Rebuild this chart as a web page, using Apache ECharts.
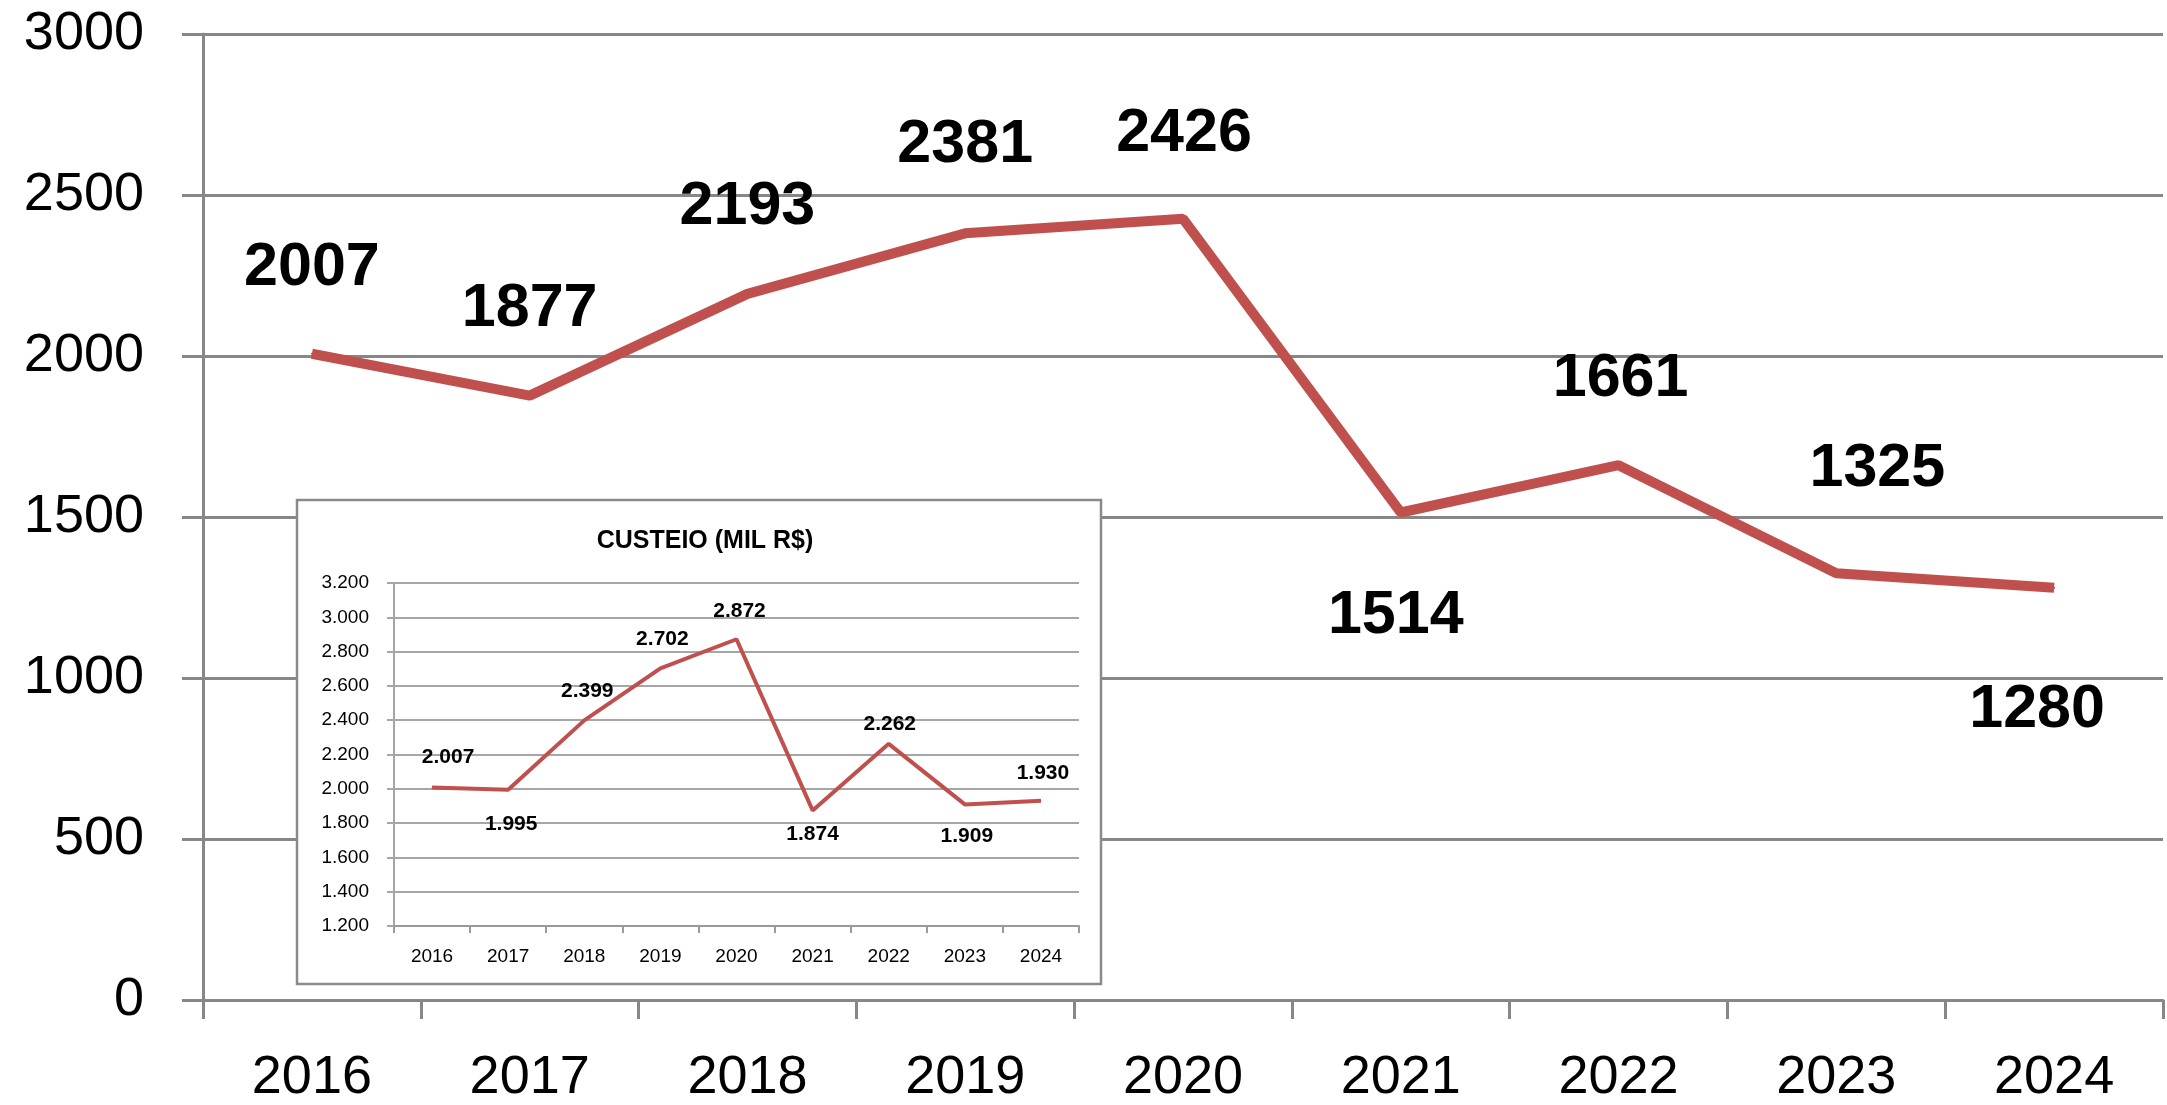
<!DOCTYPE html>
<html style="height: 100%">
<head>
    <meta charset="utf-8">
    <title>Custeio</title>
    <script src="https://cdn.jsdelivr.net/npm/echarts/dist/echarts.min.js"></script>
    <style>
        html, body { margin: 0; padding: 0; background: #fff; }
        #container { width: 2167px; height: 1105px; }
    </style>
</head>
<body>
<div id="container"></div>
<script>
    // categories (both charts use the same years)
    var years = ['2016', '2017', '2018', '2019', '2020', '2021', '2022', '2023', '2024'];
    // big chart values
    var mainValues = [2007, 1877, 2193, 2381, 2426, 1514, 1661, 1325, 1280];
    // small chart "CUSTEIO (MIL R$)"
    var insetTitle = 'CUSTEIO (MIL R$)';
    var insetValues = [2007, 1995, 2399, 2702, 2872, 1874, 2262, 1909, 1930];

    // label placement (pixel offsets from the point), not data
    var mainLabelOffsets = [[0, -86], [0, -86], [0, -87], [0, -88], [1, -85], [-5, 104], [2, -86], [41, -104], [-17, 122]];
    var insetLabelOffsets = [[16, -30], [3, 35], [3, -29], [2, -29], [3, -28], [0, 24], [1, -20], [2, 32], [2, -28]];

    var RED = '#C0504D';
    var FONT = 'Liberation Sans';

    // 2007 -> "2.007"
    function ptNumber(v) {
        return String(v).replace(/\B(?=(\d{3})+(?!\d))/g, '.');
    }

    function buildData(values, offsets) {
        var out = [];
        for (var i = 0; i < values.length; i++) {
            out.push({
                value: values[i],
                label: { offset: offsets[i] }
            });
        }
        return out;
    }

    var myChart = echarts.init(document.getElementById('container'), null, { renderer: 'canvas' });

    var option = {
        animation: false,
        backgroundColor: '#fff',
        title: {
            text: insetTitle,
            left: 700,
            top: 524,
            textAlign: 'center',
            z: 20,
            textStyle: { fontFamily: FONT, fontWeight: 'bold', fontSize: 25, color: '#000' }
        },
        graphic: [
            {
                type: 'rect',
                z: 5,
                shape: { x: 297, y: 500, width: 804, height: 484 },
                style: { fill: '#fff', stroke: '#8a8a8a', lineWidth: 2.5 }
            }
        ],
        grid: [
            { left: 203, right: 4, top: 34, bottom: 103 },
            { left: 394, right: 1088, top: 583, bottom: 179, z: 10 }
        ],
        xAxis: [
            {
                type: 'category',
                gridIndex: 0,
                data: years,
                boundaryGap: true,
                axisLine: { lineStyle: { color: '#878787', width: 3 } },
                axisTick: { show: true, length: 19, lineStyle: { color: '#878787', width: 3 } },
                axisLabel: { color: '#000', fontFamily: FONT, fontSize: 54, margin: 51 },
                splitLine: { show: false }
            },
            {
                type: 'category',
                gridIndex: 1,
                data: years,
                boundaryGap: true,
                z: 10,
                axisLine: { lineStyle: { color: '#9a9a9a', width: 2 } },
                axisTick: { show: true, length: 7, lineStyle: { color: '#9a9a9a', width: 2 } },
                axisLabel: { color: '#000', fontFamily: FONT, fontSize: 19, margin: 21 },
                splitLine: { show: false }
            }
        ],
        yAxis: [
            {
                type: 'value',
                gridIndex: 0,
                min: 0,
                max: 3000,
                interval: 500,
                axisLine: { show: true, lineStyle: { color: '#878787', width: 3 } },
                axisTick: { show: true, length: 21, lineStyle: { color: '#878787', width: 3 } },
                axisLabel: {
                    color: '#000', fontFamily: FONT, fontSize: 54, margin: 59,
                    formatter: function (v) { return String(v); }
                },
                splitLine: { show: true, lineStyle: { color: '#878787', width: 3 } }
            },
            {
                type: 'value',
                gridIndex: 1,
                min: 1200,
                max: 3200,
                interval: 200,
                z: 10,
                axisLine: { show: true, lineStyle: { color: '#a6a6a6', width: 2 } },
                axisTick: { show: true, length: 7, lineStyle: { color: '#a6a6a6', width: 2 } },
                axisLabel: {
                    color: '#000', fontFamily: FONT, fontSize: 19, margin: 25,
                    formatter: function (v) { return ptNumber(v); }
                },
                splitLine: { show: true, lineStyle: { color: '#a6a6a6', width: 2 } }
            }
        ],
        series: [
            {
                name: 'main',
                type: 'line',
                xAxisIndex: 0,
                yAxisIndex: 0,
                data: buildData(mainValues, mainLabelOffsets),
                symbol: 'circle',
                symbolSize: 2,
                itemStyle: { color: RED },
                lineStyle: { color: RED, width: 10 },
                label: {
                    show: true,
                    position: 'inside',
                    align: 'center',
                    verticalAlign: 'middle',
                    color: '#000',
                    fontFamily: FONT,
                    fontWeight: 'bold',
                    fontSize: 61
                },
                z: 3
            },
            {
                name: 'inset',
                type: 'line',
                xAxisIndex: 1,
                yAxisIndex: 1,
                data: buildData(insetValues, insetLabelOffsets),
                symbol: 'circle',
                symbolSize: 1,
                itemStyle: { color: RED },
                lineStyle: { color: RED, width: 4 },
                label: {
                    show: true,
                    position: 'inside',
                    align: 'center',
                    verticalAlign: 'middle',
                    color: '#000',
                    fontFamily: FONT,
                    fontWeight: 'bold',
                    fontSize: 21,
                    formatter: function (p) { return ptNumber(p.value); }
                },
                z: 12
            }
        ]
    };

    myChart.setOption(option);
</script>
</body>
</html>
